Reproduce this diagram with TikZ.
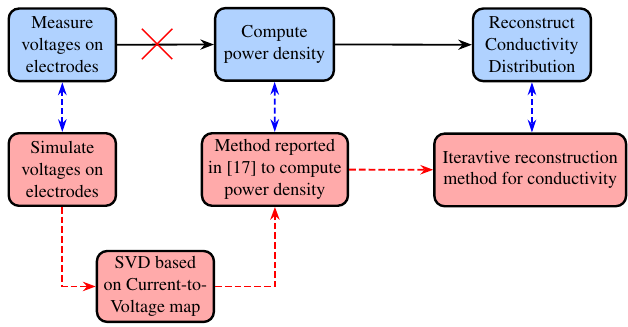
\documentclass[tikz,border=0pt]{standalone}
\usepackage[T1]{fontenc}
\usepackage{mathptmx}
\usetikzlibrary{arrows.meta,shapes.misc}
\definecolor{measfill}{RGB}{176,210,255}
\definecolor{simfill}{RGB}{255,170,170}
\tikzset{
  block/.style={draw, line width=1.6pt, rounded corners=2.4mm, align=center,
    minimum height=1.7cm, font=\rmfamily\fontsize{12}{14.5}\selectfont},
  meas/.style={block, fill=measfill},
  sim/.style={block, fill=simfill},
  flow/.style={-{Stealth[length=3.2mm,width=2.4mm]}, line width=1.2pt},
  link/.style={{Stealth[length=3mm,width=2mm]}-{Stealth[length=3mm,width=2mm]},
    blue, line width=1.2pt, dash pattern=on 4pt off 2pt},
  simflow/.style={-{Stealth[length=3mm,width=2.2mm]}, red, line width=1.2pt,
    dash pattern=on 4.5pt off 2pt}
}
\begin{document}
\begin{tikzpicture}
      \useasboundingbox (0,0) rectangle (14.71,-7.64);
      \node[meas, minimum width=2.51cm] (measure) at (1.46,-1.05) {Measure\\voltages on\\electrodes};
      \node[meas, minimum width=2.78cm] (compute) at (6.43,-1.04) {Compute\\power density};
      \node[meas, minimum width=2.76cm] (reconstruct) at (12.46,-1.05) {Reconstruct\\Conductivity\\Distribution};
      \node[sim, minimum width=2.51cm] (simulate) at (1.46,-3.97) {Simulate\\voltages on\\electrodes};
      \node[sim, minimum width=3.42cm] (method) at (6.44,-3.97) {Method reported\\in [17] to compute\\power density};
      \node[sim, minimum width=4.49cm] (iterative) at (12.42,-3.98) {Iteravtive reconstruction\\method for conductivity};
      \node[sim, minimum width=2.74cm, minimum height=1.66cm] (svd) at (3.64,-6.71) {SVD based\\on Current-to-\\Voltage map};
      \begin{scope}[flow]
        \draw (measure) to (compute);
        \draw (compute) to (reconstruct);
      \end{scope}
      \node[cross out, draw=red, line width=0.9pt, minimum size=0.68cm] (block) at (3.68,-1.03) {};
      \begin{scope}[link]
        \draw (measure) to (simulate);
        \draw (compute) to (method);
        \draw (reconstruct.south) to (reconstruct.south |- iterative.north);
      \end{scope}
      \begin{scope}[simflow]
        \draw (simulate) |- (svd);
        \draw (svd) -| (method);
        \draw (method) to (iterative);
      \end{scope}
    \end{tikzpicture}
\end{document}
